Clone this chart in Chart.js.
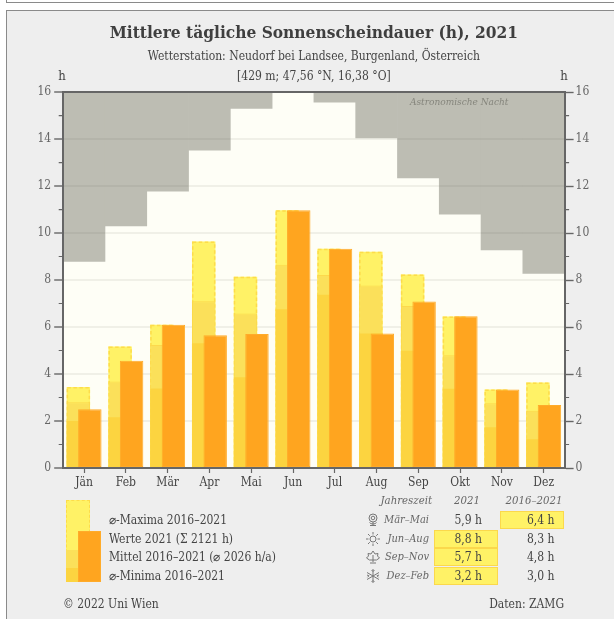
<!DOCTYPE html>
<html lang="de"><head><meta charset="utf-8">
<script src="https://cdn.jsdelivr.net/npm/chart.js@4"></script>
<style>
html,body{margin:0;padding:0;background:#fff;width:614px;height:619px;overflow:hidden}
:root{--f:"DejaVu Serif Condensed","DejaVu Serif",serif}
#strip{position:absolute;left:6px;top:-2px;right:-3px;height:3px;border:1px solid #8a8a8a;box-sizing:content-box}
#card{position:absolute;left:6px;top:10px;right:-3px;bottom:-3px;background:#eee;border:1px solid #8a8a8a}
canvas{position:absolute;left:0;top:0}
.t{position:absolute;font-family:var(--f);color:#444;white-space:nowrap;line-height:16px}
.i{font-style:italic;color:#666}
.box{position:absolute;box-sizing:border-box;background:#fff266;border:1.5px solid #fbd84c;width:64px;height:18px}
.sw{position:absolute;box-sizing:border-box}
svg{position:absolute;fill:none;stroke:#777;stroke-width:1}
</style></head><body>
<div id="strip"></div><div id="card"></div>
<canvas id="c" width="614" height="619"></canvas>
<div id="over"></div>
<script>
const months=["Jän","Feb","Mär","Apr","Mai","Jun","Jul","Aug","Sep","Okt","Nov","Dez"];
const werte2021=[2.5,4.56,6.1,5.65,5.7,10.97,9.33,5.72,7.09,6.46,3.34,2.68];
const maxima=[3.45,5.17,6.1,9.64,8.14,10.97,9.33,9.2,8.24,6.45,3.34,3.64];
const mittel=[2.8,3.68,5.23,7.1,6.58,8.65,8.21,7.77,6.89,4.8,2.76,2.44];
const minima=[2.0,2.16,3.38,5.31,3.86,6.76,7.37,5.72,4.99,3.37,1.73,1.22];
const nachtGrenze=[8.79,10.3,11.78,13.53,15.3,16,15.57,14.05,12.35,10.8,9.28,8.28];
const legendTexte=["⌀-Maxima 2016–2021","Werte 2021 (Σ 2121 h)","Mittel 2016–2021 (⌀ 2026 h/a)","⌀-Minima 2016–2021"];
const saisonen=["Mär–Mai","Jun–Aug","Sep–Nov","Dez–Feb"];
const saison2021=["5,9 h","8,8 h","5,7 h","3,2 h"];
const saisonMittel=["6,4 h","8,3 h","4,8 h","3,0 h"];
const hoeher2021=[false,true,true,true];

const FONT='"DejaVu Serif Condensed","DejaVu Serif",serif';
const AX='#666',CP=0.55,BP=2.04;
const barBase={categoryPercentage:CP,barPercentage:BP,stack:'back',borderSkipped:false,yAxisID:'y'};

const plugin={
 id:'deco',
 beforeDraw(ch){const a=ch.chartArea,x=ch.ctx;x.save();x.fillStyle='#fefef6';x.fillRect(a.left,a.top,a.right-a.left,a.bottom-a.top);x.restore();},
 afterDatasetDraw(ch,args){
  const label=ch.data.datasets[args.index].label,x=ch.ctx,y=ch.scales.y;
  if(label==='night'){
   x.save();x.strokeStyle='rgba(70,70,50,0.07)';x.lineWidth=2;
   args.meta.data.forEach(b=>{const p=b.getProps(['x','y','base','width'],true);
    y.ticks.forEach(t=>{const q=y.getPixelForValue(t.value);
     if(t.value>0&&t.value<16&&q<=Math.max(p.base,p.y)&&q>=Math.min(p.base,p.y)){x.beginPath();x.moveTo(p.x-p.width/2,q);x.lineTo(p.x+p.width/2,q);x.stroke();}});});
   x.restore();
  }
  if(label==='max'){
   x.save();x.strokeStyle='#fddc4a';x.lineWidth=1.5;x.setLineDash([3.5,2.5]);
   args.meta.data.forEach(b=>{const p=b.getProps(['x','y','base','width'],true);
    x.strokeRect(p.x-p.width/2+.75,p.y+.75,p.width-1.5,p.base-p.y-.75);});
   x.restore();
  }
 },
 afterDatasetsDraw(ch){
  const x=ch.ctx,a=ch.chartArea,y=ch.scales.y;x.save();x.strokeStyle=AX;
  x.lineWidth=2;x.beginPath();x.moveTo(a.left-1,a.top);x.lineTo(a.right+1,a.top);x.stroke();
  x.lineWidth=1.2;
  for(let v=1;v<16;v+=2){const p=y.getPixelForValue(v);
   x.beginPath();x.moveTo(a.left-4.5,p);x.lineTo(a.left,p);x.moveTo(a.right,p);x.lineTo(a.right+4.5,p);x.stroke();}
  x.restore();
 }
};

new Chart(document.getElementById('c'),{
 type:'bar',
 plugins:[plugin],
 data:{labels:months,datasets:[
  Object.assign({},barBase,{label:'slot',data:[]}),
  Object.assign({},barBase,{label:'2021',data:werte2021,stack:'front',backgroundColor:'#ffa51f',borderColor:'#ffab2a',borderWidth:1}),
  Object.assign({},barBase,{label:'min',data:minima,backgroundColor:'#fcd440',borderWidth:0}),
  Object.assign({},barBase,{label:'mean',data:mittel,backgroundColor:'#fbe05a',borderColor:'#fcd94c',borderWidth:1}),
  Object.assign({},barBase,{label:'max',data:maxima,backgroundColor:'#fff266',borderWidth:0}),
  {label:'night',data:nachtGrenze.map(v=>[v,16]),grouped:false,categoryPercentage:1,barPercentage:1,
   backgroundColor:'#bdbdb3',borderWidth:0,borderSkipped:false,yAxisID:'y'}
 ]},
 options:{
  responsive:false,animation:false,
  layout:{padding:{left:0,right:0,top:0,bottom:121}},
  plugins:{
   legend:{display:false},tooltip:{enabled:false},
   title:{display:true,fullSize:false,text:'Mittlere tägliche Sonnenscheindauer (h), 2021',color:'#3f3f3f',
     font:{family:FONT,size:17.2,weight:'bold'},padding:{top:23,bottom:4}},
   subtitle:{display:true,fullSize:false,text:['Wetterstation: Neudorf bei Landsee, Burgenland, Österreich','[429 m; 47,56 °N, 16,38 °O]'],color:'#444',
     font:{family:FONT,size:12,lineHeight:1.6},padding:{top:0,bottom:6}}
  },
  scales:{
   x:{stacked:true,offset:true,
      grid:{offset:false,drawOnChartArea:false,tickLength:5,tickColor:AX,tickWidth:1.2},
      border:{color:AX,width:2,z:1},
      ticks:{color:'#444',font:{family:FONT,size:12},padding:3,maxRotation:0,autoSkip:false},
      afterFit(s){s.height=30;}},
   y:{position:'left',stacked:false,min:0,max:16,
      grid:{color:c=>c.tick&&(c.tick.value===0||c.tick.value===16)?'rgba(0,0,0,0)':'rgba(60,60,40,0.07)',lineWidth:2,
            tickColor:AX,tickLength:9,tickWidth:1.4},
      border:{color:AX,width:2,z:1},
      ticks:{stepSize:2,color:'#666',font:{family:FONT,size:12},padding:3},
      afterFit(s){s.width=63.2;}},
   y2:{position:'right',display:true,min:0,max:16,
      grid:{drawOnChartArea:false,tickColor:AX,tickLength:9,tickWidth:1.4},
      border:{color:AX,width:2,z:1},
      ticks:{stepSize:2,color:'#666',font:{family:FONT,size:12},padding:2},
      afterFit(s){s.width=49.4;}}
  }
 }
});

const over=document.getElementById('over');
function txt(s,x,y,align,cls,size){const d=document.createElement('div');d.className='t '+(cls||'');d.textContent=s;
 d.style.top=(y-8)+'px';d.style.fontSize=(size||12)+'px';
 if(align==='r'){d.style.right=(614-x)+'px';}else if(align==='c'){d.style.left=x+'px';d.style.transform='translateX(-50%)';}else d.style.left=x+'px';
 over.appendChild(d);return d;}
function sw(x,y,w,h,css){const d=document.createElement('div');d.className='sw';d.style.cssText+=`left:${x}px;top:${y}px;width:${w}px;height:${h}px;${css}`;over.appendChild(d);}
txt('h',62,76,'c','',13);txt('h',564,76,'c','',13);
txt('Astronomische Nacht',410,102,'','i',10).style.color='#85857c';
// legend swatch
sw(66,499.5,24,82,'background:#fff266;border:1.5px dashed #fddc4a;border-bottom:none');
sw(66,550,24,32,'background:#fbe05a');
sw(66,568,24,14,'background:#fcd440');
sw(77.5,530.5,23.5,51.5,'background:#ffa51f;border:1px solid #ffab2a');
legendTexte.forEach((s,i)=>txt(s,109,[520,538.5,557,575.5][i]));
// season table
txt('Jahreszeit',432,501,'r','i',11.3);txt('2021',467,501,'c','i',11.3);txt('2016–2021',534,501,'c','i',11.3);
const rowY=[520,539,557,576];
const icons=[
 '<circle cx="7" cy="5" r="1.8"/><circle cx="7" cy="5" r="4"/><path d="M3.5 9.5c1 2 6 2 7 0M7 9v4M4 12.5h6"/>',
 '<circle cx="7" cy="7" r="3"/><path d="M7 0v2.5M7 11.5V14M0 7h2.5M11.5 7H14M2 2l1.8 1.8M10.2 10.2L12 12M12 2l-1.8 1.8M3.8 10.2L2 12"/>',
 '<path d="M7 12V5M7 1L5 4 2 3.5 2.5 6 .5 8l3 2h7l3-2-2-2 .5-2.5L9 4zM4 13h6"/>',
 '<path d="M7 0v14M1 3.5l12 7M13 3.5l-12 7M5.5 1L7 2.5 8.500 1M5.500 13L7 11.500 8.500 13M1 6l2 .8-1.500 1.500M13 6l-2 .8 1.500 1.500"/>'];
saisonen.forEach((s,i)=>{const y=rowY[i];
 const g=document.createElementNS('http://www.w3.org/2000/svg','svg');
 g.setAttribute('width','14');g.setAttribute('height','14');g.setAttribute('viewBox','0 0 14 14');
 g.style.left='366px';g.style.top=(y-7)+'px';g.innerHTML=icons[i];over.appendChild(g);
 txt(s,429,y,'r','i',11);
 const boxAt=hoeher2021[i]?434:500;
 const b=document.createElement('div');b.className='box';b.style.left=boxAt+'px';b.style.top=(y-9)+'px';over.appendChild(b);
 txt(saison2021[i],482,y,'r');
 txt(saisonMittel[i],554.500,y,'r');
});
txt('© 2022 Uni Wien',63,604);
txt('Daten: ZAMG',564,604,'r');
</script>
</body></html>
